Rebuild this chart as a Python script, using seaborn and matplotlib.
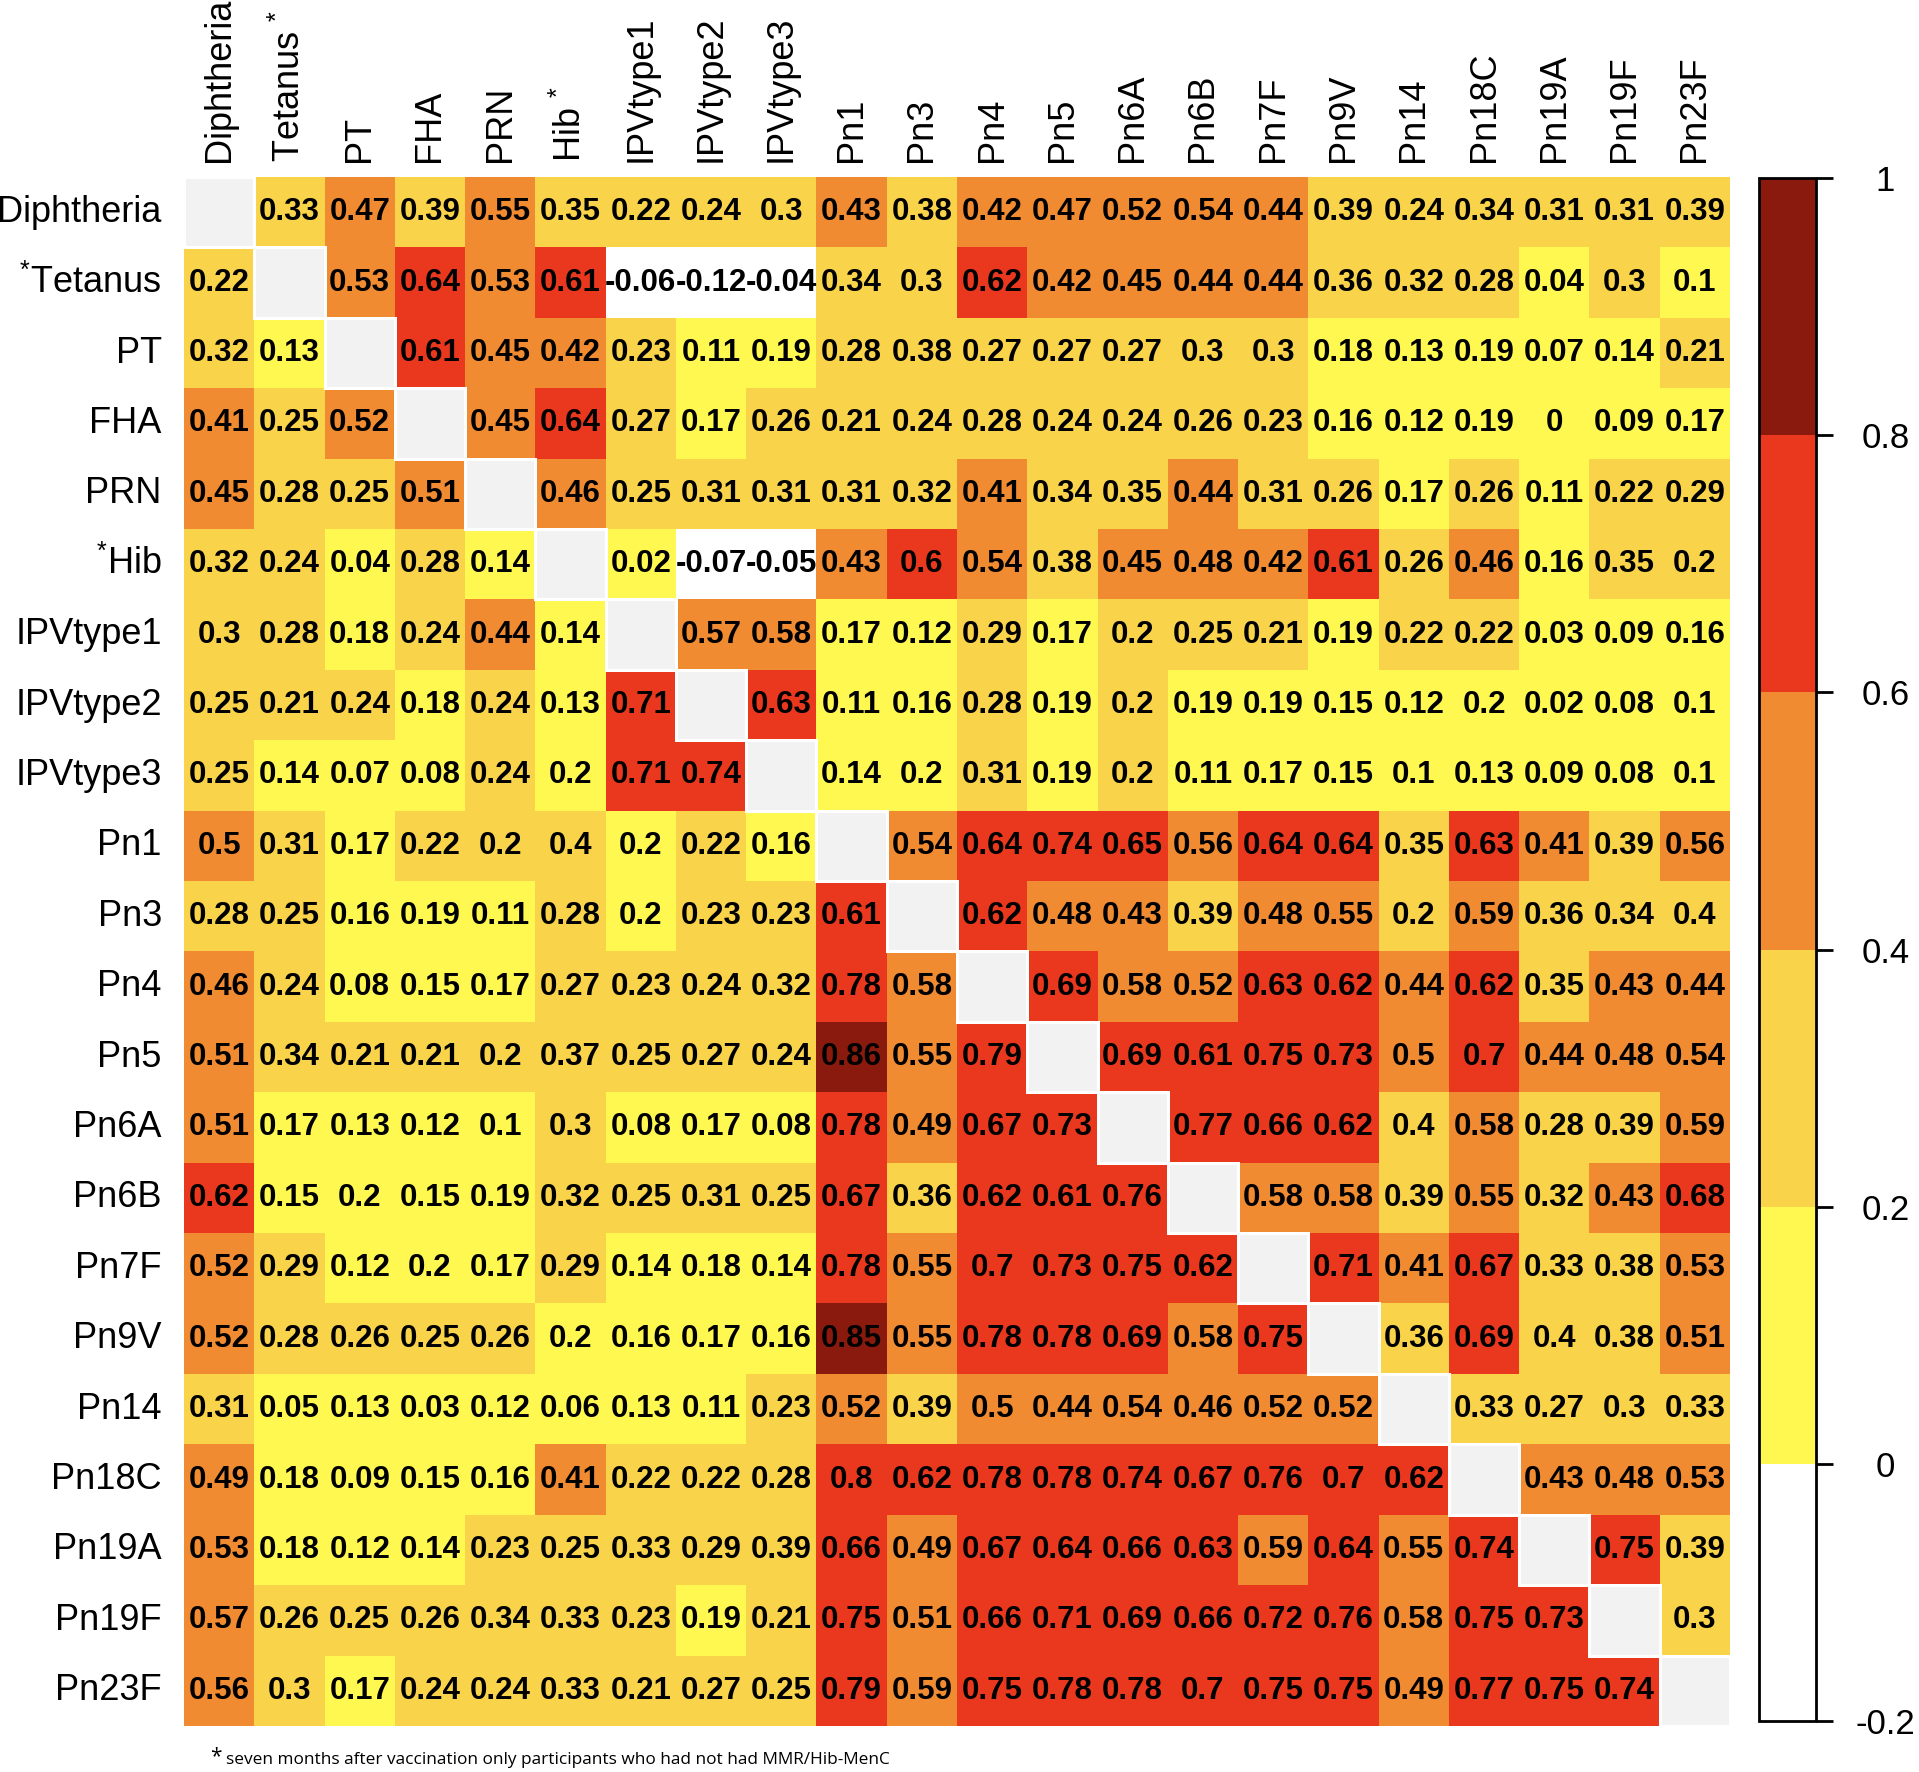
import numpy as np
import pandas as pd
import matplotlib
matplotlib.use("Agg")
import matplotlib.pyplot as plt
from matplotlib.colors import ListedColormap, BoundaryNorm
import seaborn as sns

plt.rcParams['font.family'] = ['Liberation Sans', 'DejaVu Sans']
plt.rcParams['mathtext.fontset'] = 'custom'
plt.rcParams['mathtext.rm'] = 'Liberation Sans'
plt.rcParams['mathtext.it'] = 'Liberation Sans'

# antigen names (row order = column order)
antigenos = ["Diphtheria", "Tetanus", "PT", "FHA", "PRN", "Hib", "IPVtype1", "IPVtype2",
             "IPVtype3", "Pn1", "Pn3", "Pn4", "Pn5", "Pn6A", "Pn6B", "Pn7F", "Pn9V",
             "Pn14", "Pn18C", "Pn19A", "Pn19F", "Pn23F"]
rotulos_colunas = ["Diphtheria", "Tetanus $^{*}$", "PT", "FHA", "PRN", "Hib $^{*}$", "IPVtype1",
                   "IPVtype2", "IPVtype3", "Pn1", "Pn3", "Pn4", "Pn5", "Pn6A", "Pn6B", "Pn7F",
                   "Pn9V", "Pn14", "Pn18C", "Pn19A", "Pn19F", "Pn23F"]
rotulos_linhas = ["Diphtheria", "$^{*}$Tetanus", "PT", "FHA", "PRN", "$^{*}$Hib", "IPVtype1",
                  "IPVtype2", "IPVtype3", "Pn1", "Pn3", "Pn4", "Pn5", "Pn6A", "Pn6B", "Pn7F",
                  "Pn9V", "Pn14", "Pn18C", "Pn19A", "Pn19F", "Pn23F"]

# correlations, one list per row (None = diagonal)
# values printed as 0.2/0.4/0.8 but coloured in the lower band are kept just below the cut
diphtheria = [None, 0.33, 0.47, 0.39, 0.55, 0.35, 0.22, 0.24, 0.3, 0.43, 0.38, 0.42, 0.47, 0.52, 0.54, 0.44, 0.39, 0.24, 0.34, 0.31, 0.31, 0.39]
tetanus = [0.22, None, 0.53, 0.64, 0.53, 0.61, -0.06, -0.12, -0.04, 0.34, 0.3, 0.62, 0.42, 0.45, 0.44, 0.44, 0.36, 0.32, 0.28, 0.04, 0.3, 0.1]
pt = [0.32, 0.13, None, 0.61, 0.45, 0.42, 0.23, 0.11, 0.19, 0.28, 0.38, 0.27, 0.27, 0.27, 0.3, 0.3, 0.18, 0.13, 0.19, 0.07, 0.14, 0.21]
fha = [0.41, 0.25, 0.52, None, 0.45, 0.64, 0.27, 0.17, 0.26, 0.21, 0.24, 0.28, 0.24, 0.24, 0.26, 0.23, 0.16, 0.12, 0.19, 0, 0.09, 0.17]
prn = [0.45, 0.28, 0.25, 0.51, None, 0.46, 0.25, 0.31, 0.31, 0.31, 0.32, 0.41, 0.34, 0.35, 0.44, 0.31, 0.26, 0.17, 0.26, 0.11, 0.22, 0.29]
hib = [0.32, 0.24, 0.04, 0.28, 0.14, None, 0.02, -0.07, -0.05, 0.43, 0.6, 0.54, 0.38, 0.45, 0.48, 0.42, 0.61, 0.26, 0.46, 0.16, 0.35, 0.2]
ipv1 = [0.3, 0.28, 0.18, 0.24, 0.44, 0.14, None, 0.57, 0.58, 0.17, 0.12, 0.29, 0.17, 0.2, 0.25, 0.21, 0.19, 0.22, 0.22, 0.03, 0.09, 0.16]
ipv2 = [0.25, 0.21, 0.24, 0.18, 0.24, 0.13, 0.71, None, 0.63, 0.11, 0.16, 0.28, 0.19, 0.2, 0.19, 0.19, 0.15, 0.12, 0.196, 0.02, 0.08, 0.1]
ipv3 = [0.25, 0.14, 0.07, 0.08, 0.24, 0.196, 0.71, 0.74, None, 0.14, 0.196, 0.31, 0.19, 0.2, 0.11, 0.17, 0.15, 0.1, 0.13, 0.09, 0.08, 0.1]
pn1 = [0.5, 0.31, 0.17, 0.22, 0.2, 0.396, 0.196, 0.22, 0.16, None, 0.54, 0.64, 0.74, 0.65, 0.56, 0.64, 0.64, 0.35, 0.63, 0.41, 0.39, 0.56]
pn3 = [0.28, 0.25, 0.16, 0.19, 0.11, 0.28, 0.196, 0.23, 0.23, 0.61, None, 0.62, 0.48, 0.43, 0.39, 0.48, 0.55, 0.2, 0.59, 0.36, 0.34, 0.396]
pn4 = [0.46, 0.24, 0.08, 0.15, 0.17, 0.27, 0.23, 0.24, 0.32, 0.78, 0.58, None, 0.69, 0.58, 0.52, 0.63, 0.62, 0.44, 0.62, 0.35, 0.43, 0.44]
pn5 = [0.51, 0.34, 0.21, 0.21, 0.2, 0.37, 0.25, 0.27, 0.24, 0.86, 0.55, 0.79, None, 0.69, 0.61, 0.75, 0.73, 0.5, 0.7, 0.44, 0.48, 0.54]
pn6a = [0.51, 0.17, 0.13, 0.12, 0.1, 0.3, 0.08, 0.17, 0.08, 0.78, 0.49, 0.67, 0.73, None, 0.77, 0.66, 0.62, 0.396, 0.58, 0.28, 0.39, 0.59]
pn6b = [0.62, 0.15, 0.196, 0.15, 0.19, 0.32, 0.25, 0.31, 0.25, 0.67, 0.36, 0.62, 0.61, 0.76, None, 0.58, 0.58, 0.39, 0.55, 0.32, 0.43, 0.68]
pn7f = [0.52, 0.29, 0.12, 0.196, 0.17, 0.29, 0.14, 0.18, 0.14, 0.78, 0.55, 0.7, 0.73, 0.75, 0.62, None, 0.71, 0.41, 0.67, 0.33, 0.38, 0.53]
pn9v = [0.52, 0.28, 0.26, 0.25, 0.26, 0.196, 0.16, 0.17, 0.16, 0.85, 0.55, 0.78, 0.78, 0.69, 0.58, 0.75, None, 0.36, 0.69, 0.396, 0.38, 0.51]
pn14 = [0.31, 0.05, 0.13, 0.03, 0.12, 0.06, 0.13, 0.11, 0.23, 0.52, 0.39, 0.5, 0.44, 0.54, 0.46, 0.52, 0.52, None, 0.33, 0.27, 0.3, 0.33]
pn18c = [0.49, 0.18, 0.09, 0.15, 0.16, 0.41, 0.22, 0.22, 0.28, 0.798, 0.62, 0.78, 0.78, 0.74, 0.67, 0.76, 0.7, 0.62, None, 0.43, 0.48, 0.53]
pn19a = [0.53, 0.18, 0.12, 0.14, 0.23, 0.25, 0.33, 0.29, 0.39, 0.66, 0.49, 0.67, 0.64, 0.66, 0.63, 0.59, 0.64, 0.55, 0.74, None, 0.75, 0.39]
pn19f = [0.57, 0.26, 0.25, 0.26, 0.34, 0.33, 0.23, 0.19, 0.21, 0.75, 0.51, 0.66, 0.71, 0.69, 0.66, 0.72, 0.76, 0.58, 0.75, 0.73, None, 0.3]
pn23f = [0.56, 0.3, 0.17, 0.24, 0.24, 0.33, 0.21, 0.27, 0.25, 0.79, 0.59, 0.75, 0.78, 0.78, 0.7, 0.75, 0.75, 0.49, 0.77, 0.75, 0.74, None]

linhas = [diphtheria, tetanus, pt, fha, prn, hib, ipv1, ipv2, ipv3, pn1, pn3, pn4, pn5,
          pn6a, pn6b, pn7f, pn9v, pn14, pn18c, pn19a, pn19f, pn23f]

limites = [-0.2, 0, 0.2, 0.4, 0.6, 0.8, 1.0]
cores = ["#FFFFFF", "#FFF850", "#F9D44A", "#F18B31", "#E9381D", "#8A1A0D"]

matriz = pd.DataFrame(np.array(linhas, dtype=float), index=antigenos, columns=antigenos)
textos = matriz.apply(lambda col: col.map(lambda v: "" if pd.isna(v) else f"{round(v, 2):g}"))
n = len(antigenos)
diagonal = pd.DataFrame(np.eye(n), index=antigenos, columns=antigenos)

fig = plt.figure(figsize=(19.19, 17.72), dpi=100)
ax = fig.add_axes([0.0959, 0.0260, 0.8056, 0.8741])
cax = fig.add_axes([0.9166, 0.0288, 0.0297, 0.8707])

cmap = ListedColormap(cores)
norm = BoundaryNorm(limites, cmap.N)

sns.heatmap(matriz, ax=ax, cmap=cmap, norm=norm, annot=textos, fmt="",
            annot_kws={"color": "black", "fontsize": 22.5, "fontweight": "bold"},
            cbar_ax=cax, cbar_kws={"ticks": limites})
barra = ax.collections[0].colorbar

# grey diagonal, white edge only around the diagonal cells
sns.heatmap(diagonal, ax=ax, mask=diagonal == 0, cmap=ListedColormap(["#F2F2F2"]),
            cbar=False, linewidths=2, linecolor="white")
malha = ax.collections[-1]
bordas = np.zeros((n * n, 4))
bordas[np.eye(n, dtype=bool).ravel()] = [1, 1, 1, 1]
malha.set_edgecolor(bordas)

ax.xaxis.tick_top()
ax.set_xticks(np.arange(n) + 0.5)
ax.set_xticklabels(rotulos_colunas, rotation=90, fontsize=26)
ax.set_yticks(np.arange(n) + 0.5)
ax.set_yticklabels(rotulos_linhas, rotation=0, fontsize=26)
ax.tick_params(axis="x", length=0, pad=11)
ax.tick_params(axis="y", length=0, pad=16)
ax.set_xlabel("")
ax.set_ylabel("")

cax.set_yticklabels(["-0.2", "0", "0.2", "0.4", "0.6", "0.8", "1"])
cax.tick_params(length=12, width=2, labelsize=25, pad=38)
for lab in cax.get_yticklabels():
    lab.set_horizontalalignment("center")
barra.outline.set_linewidth(2)
barra.outline.set_edgecolor("black")

fig.text(0.1094, 0.0025, "*", fontsize=15, family="Open Sans", va="bottom")
fig.text(0.1178, 0.0022, "seven months after vaccination only participants who had not had MMR/Hib-MenC",
         fontsize=12.4, family="Open Sans", va="bottom")

plt.savefig("out.png", dpi=100)
